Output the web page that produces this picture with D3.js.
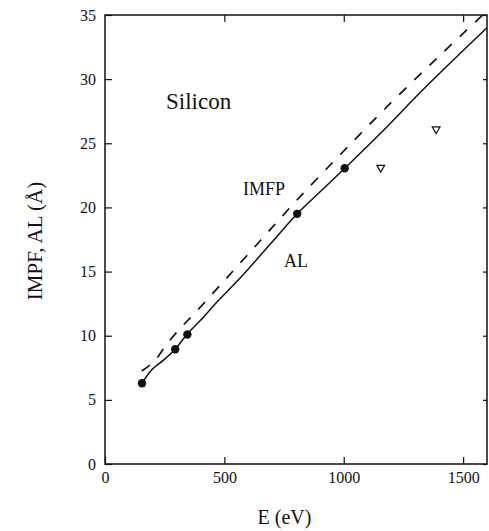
<!DOCTYPE html>
<html>
<head>
<meta charset="utf-8">
<script src="https://cdn.jsdelivr.net/npm/d3@7"></script>
<style>
  html, body { margin: 0; padding: 0; background: #fff; }
  svg text { font-family: "Liberation Serif", "DejaVu Serif", serif; fill: #111; }
</style>
</head>
<body>
<svg id="chart" width="489" height="531"></svg>
<script>
// Attenuation length (AL), solid curve
const alEnergy = [155, 196, 245, 294, 343, 400, 470, 556, 700, 805, 900, 1004, 1150, 1344, 1600];
const alValue  = [6.3, 7.35, 8.1, 8.95, 10.1, 11.2, 12.65, 14.3, 17.3, 19.5, 21.2, 23.05, 25.7, 29.4, 34.0];

// Inelastic mean free path (IMFP), dashed curve
const imfpEnergy = [154, 206, 259, 319, 378, 500, 650, 805, 1000, 1200, 1400, 1582];
const imfpValue  = [7.25, 8.0, 9.35, 10.65, 11.8, 14.3, 17.4, 20.6, 24.4, 28.2, 31.8, 35.0];

// Measured points (filled circles)
const dotEnergy = [155, 294, 345, 805, 1004];
const dotValue  = [6.3, 8.95, 10.1, 19.5, 23.05];

// Other measurements (open down-triangles)
const triEnergy = [1155, 1387];
const triValue  = [23.1, 26.1];

const xTicks = [0, 500, 1000, 1500];
const yTicks = [0, 5, 10, 15, 20, 25, 30, 35];

const margin = { left: 105, right: 2, top: 15, bottom: 67 };
const W = 489, H = 531;

const svg = d3.select("#chart");
const x = d3.scaleLinear().domain([0, 1600]).range([margin.left, W - margin.right]);
const y = d3.scaleLinear().domain([0, 35]).range([H - margin.bottom, margin.top]);

svg.append("defs").append("clipPath").attr("id", "plotclip")
  .append("rect")
  .attr("x", x(0)).attr("y", y(35))
  .attr("width", x(1600) - x(0)).attr("height", y(0) - y(35));

// Axes with inward ticks
const axisStyle = g => {
  g.select(".domain").remove();
  g.selectAll("line").attr("stroke", "#111").attr("stroke-width", 1.2);
  g.selectAll("text").style("font-size", "16px").attr("fill", "#111");
};

svg.append("g")
  .attr("transform", `translate(0,${y(0)})`)
  .call(d3.axisBottom(x).tickValues(xTicks).tickSize(-7).tickPadding(8).tickFormat(d3.format("d")))
  .call(axisStyle);

svg.append("g")
  .attr("transform", `translate(0,${y(35)})`)
  .call(d3.axisTop(x).tickValues(xTicks.filter(d => d > 0)).tickSize(-7).tickFormat(""))
  .call(axisStyle);

svg.append("g")
  .attr("transform", `translate(${x(0)},0)`)
  .call(d3.axisLeft(y).tickValues(yTicks).tickSize(-7).tickPadding(9).tickFormat(d3.format("d")))
  .call(axisStyle);

svg.append("g")
  .attr("transform", `translate(${x(1600)},0)`)
  .call(d3.axisRight(y).tickValues(yTicks).tickSize(-4).tickFormat(""))
  .call(axisStyle);

// Plot frame
svg.append("rect")
  .attr("x", x(0)).attr("y", y(35))
  .attr("width", x(1600) - x(0)).attr("height", y(0) - y(35))
  .attr("fill", "none").attr("stroke", "#111").attr("stroke-width", 1.5);

// Curves
const line = d3.line().curve(d3.curveCatmullRom.alpha(0.5)).x(d => x(d[0])).y(d => y(d[1]));

svg.append("path")
  .datum(d3.zip(alEnergy, alValue))
  .attr("clip-path", "url(#plotclip)")
  .attr("d", line)
  .attr("fill", "none").attr("stroke", "#111").attr("stroke-width", 1.5);

svg.append("path")
  .datum(d3.zip(imfpEnergy, imfpValue))
  .attr("clip-path", "url(#plotclip)")
  .attr("d", line)
  .attr("fill", "none").attr("stroke", "#111").attr("stroke-width", 1.7)
  .attr("stroke-dasharray", "10,11");

// Points
svg.selectAll("circle.dot")
  .data(d3.zip(dotEnergy, dotValue))
  .join("circle")
  .attr("class", "dot")
  .attr("cx", d => x(d[0])).attr("cy", d => y(d[1]))
  .attr("r", 4.2).attr("fill", "#111");

const tri = d3.symbol().type(d3.symbolTriangle).size(26);
svg.selectAll("path.tri")
  .data(d3.zip(triEnergy, triValue))
  .join("path")
  .attr("class", "tri")
  .attr("d", tri)
  .attr("transform", d => `translate(${x(d[0])},${y(d[1])}) rotate(180)`)
  .attr("fill", "#fff").attr("stroke", "#111").attr("stroke-width", 1.2);

// Labels
svg.append("text").attr("x", 166).attr("y", 108.5).style("font-size", "23px").text("Silicon");
svg.append("text").attr("x", 243).attr("y", 195).style("font-size", "18px").text("IMFP");
svg.append("text").attr("x", 284).attr("y", 267).style("font-size", "18px").text("AL");

svg.append("text")
  .attr("x", 284.5).attr("y", 524)
  .attr("text-anchor", "middle")
  .style("font-size", "20px")
  .text("E (eV)");

svg.append("text")
  .attr("transform", "translate(42,241) rotate(-90)")
  .attr("text-anchor", "middle")
  .style("font-size", "21px")
  .text("IMPF, AL (Å)");
</script>
</body>
</html>
